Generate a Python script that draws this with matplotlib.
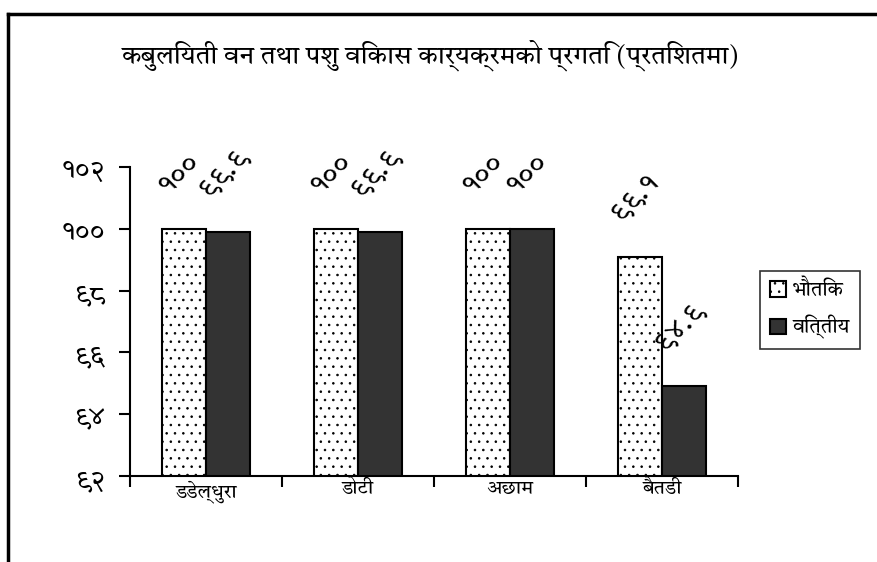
import matplotlib
matplotlib.use('Agg')
import matplotlib.pyplot as plt
from matplotlib import font_manager
from matplotlib.lines import Line2D

categories = ['डडेल्धुरा', 'डोटी', 'अछाम', 'बैतडी']
physical = [100, 100, 100, 99.1]
financial = [99.9, 99.9, 100, 94.9]
series_names = ['भौतिक', 'वित्तीय']
title = 'कबुलियती वन तथा पशु विकास कार्यक्रमको प्रगति (प्रतिशतमा)'
yticks = [92, 94, 96, 98, 100, 102]

# pick a serif-ish devanagari family that is installed
have = set(f.name for f in font_manager.fontManager.ttflist)
prefs = ['Tiro Devanagari Hindi', 'Noto Serif Devanagari', 'Sahitya', 'Martel',
         'Noto Sans Devanagari', 'Annapurna SIL', 'Amiko']
fams = [p for p in prefs if p in have][:2] + ['DejaVu Sans']
plt.rcParams['font.family'] = fams
plt.rcParams['hatch.linewidth'] = 0.6

DIG = str.maketrans('0123456789', '०१२३४५६७८९')
def dev(v):
    s = ('%d' % v) if float(v).is_integer() else ('%.1f' % v)
    return s.translate(DIG)

fig = plt.figure(figsize=(8.78, 5.62), dpi=100)
ax = fig.add_axes([130/878, 1-476/562, 608/878, 309/562])

x = range(len(categories))
w = 0.29
b1 = ax.bar([i - w/2 for i in x], physical, w, color='white', edgecolor='black',
            linewidth=1.5, hatch='..')
b2 = ax.bar([i + w/2 for i in x], financial, w, color='#333333', edgecolor='black',
            linewidth=1.5)

for bars, vals in ((b1, physical), (b2, financial)):
    for r, v in zip(bars, vals):
        ax.annotate(dev(v), (r.get_x() + r.get_width()/2, v), xytext=(-3, 21),
                    textcoords='offset points', ha='center', va='bottom',
                    rotation=45, fontsize=21)

ax.set_ylim(92, 102)
ax.set_xlim(-0.5, 3.5)
ax.set_yticks(yticks)
ax.set_yticklabels([dev(t) for t in yticks], fontsize=20)
ax.set_xticks([i - 0.5 for i in range(5)])
ax.set_xticklabels([])
ax.set_xticks(list(x), minor=True)
ax.set_xticklabels(categories, minor=True, fontsize=14)
ax.tick_params(axis='x', which='minor', length=0, pad=3)
ax.tick_params(axis='x', which='major', direction='out', length=8, width=1.5)
ax.tick_params(axis='y', direction='out', length=8, width=1.5, pad=10)
ax.spines['top'].set_visible(False)
ax.spines['right'].set_visible(False)
ax.spines['left'].set_linewidth(1.5)
ax.spines['bottom'].set_linewidth(1.5)

fig.text(0.49, 1-55/562, title, ha='center', va='center', fontsize=18.5)

leg = fig.legend([b1, b2], series_names, loc='center left',
                 bbox_to_anchor=(750/878, 1-310/562), fontsize=14.5, frameon=True,
                 fancybox=False, edgecolor='black', handlelength=0.8, handleheight=0.8,
                 handletextpad=0.3, borderpad=0.5, labelspacing=0.7)
leg.get_frame().set_linewidth(1.2)

# outer frame, only top and left edges show
fig.add_artist(Line2D([8/878, 1], [1-14/562, 1-14/562], color='black', lw=2.5,
                      transform=fig.transFigure))
fig.add_artist(Line2D([8/878, 8/878], [0, 1-14/562], color='black', lw=2.5,
                      transform=fig.transFigure))

fig.savefig('out.png', dpi=100)
